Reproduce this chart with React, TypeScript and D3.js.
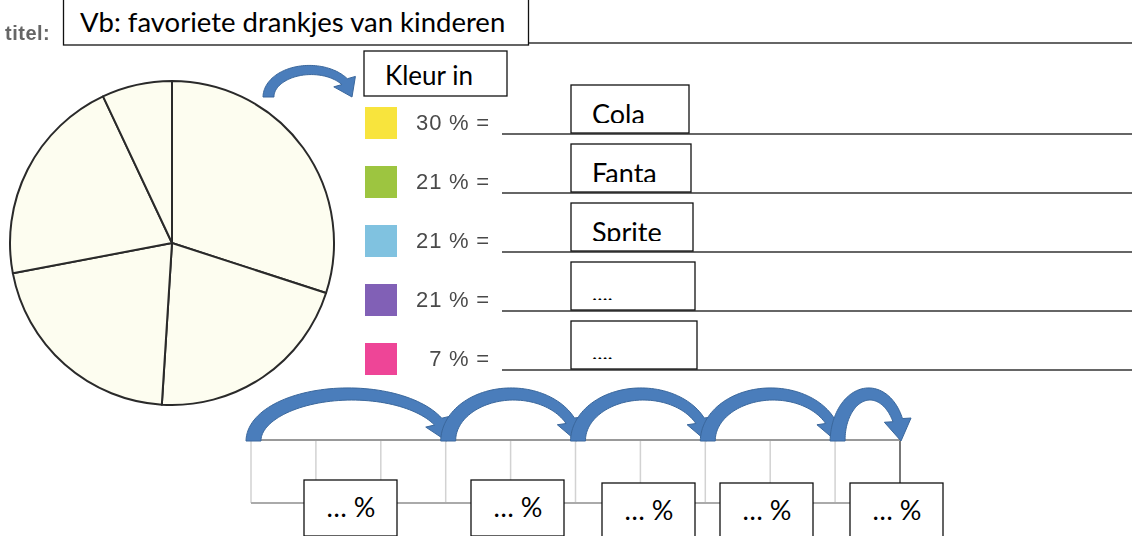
import React, { useEffect, useRef } from 'react';
import * as d3 from 'd3';

// worksheet: pie chart of favourite drinks + percentage strip
const titleText = 'Vb: favoriete drankjes van kinderen';
const drinks = ['Cola', 'Fanta', 'Sprite', '....', '....'];
const percents = [30, 21, 21, 21, 7];
const swatchColors = ['#f8e43e', '#9dc53f', '#80c2e0', '#8160b6', '#ee4597'];
const hopCells = [3, 2, 2, 2, 1];
const stripCells = 10;
const hopLabels = ['… %', '… %', '… %', '… %', '… %'];

const W = 1134;
const H = 536;

// curved (PowerPoint style) arrow from x0 to tip x1, sitting on baseline yb
function curvedArrow(x0: number, x1: number, yb: number, h: number, w0: number, w1: number, headW: number, headL: number) {
  const cx = (x0 + w0 / 2 + x1) / 2;
  const rx = (x1 - (x0 + w0 / 2)) / 2;
  const C = (t: number) => [cx + rx * Math.cos(t), yb - h * Math.sin(t)];
  const tip = C(0);
  let te = 0;
  while (te < Math.PI / 2) {
    const p = C(te);
    if (Math.hypot(p[0] - tip[0], p[1] - tip[1]) >= headL) break;
    te += 0.005;
  }
  const n = 60;
  const outer: [number, number][] = [];
  const inner: [number, number][] = [];
  for (let i = 0; i <= n; i++) {
    const t = Math.PI - (Math.PI - te) * (i / n);
    const p = C(t);
    let tx = rx * Math.sin(t), ty = h * Math.cos(t);
    const len = Math.hypot(tx, ty) || 1;
    tx /= len; ty /= len;
    const nx = ty, ny = -tx;
    const w = w0 + (w1 - w0) * (i / n);
    outer.push([p[0] + nx * w / 2, p[1] + ny * w / 2]);
    inner.push([p[0] - nx * w / 2, p[1] - ny * w / 2]);
  }
  const pe = C(te);
  let dx = tip[0] - pe[0], dy = tip[1] - pe[1];
  const dl = Math.hypot(dx, dy) || 1;
  dx /= dl; dy /= dl;
  const hx = dy, hy = -dx;
  const pts: [number, number][] = [
    ...outer,
    [pe[0] + hx * headW / 2, pe[1] + hy * headW / 2],
    [tip[0], tip[1]],
    [pe[0] - hx * headW / 2, pe[1] - hy * headW / 2],
    ...inner.reverse(),
  ];
  return d3.line()(pts) + 'Z';
}

const App = () => {
  const svgRef = useRef<SVGSVGElement>(null);

  useEffect(() => {
    const svg = d3.select(svgRef.current);
    svg.selectAll('*').remove();
    const calibri = 'Lato, Carlito, "Open Sans", sans-serif';
    const helv = '"Liberation Sans", Arial, sans-serif';
    const arrowFill = '#4a7dbb';
    const arrowStroke = '#3a679c';

    const defs = svg.append('defs');
    defs.append('filter').attr('id', 'soft')
      .attr('x', '-10%').attr('y', '-20%').attr('width', '120%').attr('height', '140%')
      .append('feGaussianBlur').attr('stdDeviation', 0.5);

    // title
    svg.append('text').attr('x', 5).attr('y', 40)
      .attr('font-family', helv).attr('font-size', 20).attr('font-weight', 'bold')
      .attr('letter-spacing', 0.5)
      .attr('fill', '#666').attr('filter', 'url(#soft)').text('titel:');
    svg.append('line').attr('x1', 529).attr('x2', 1132).attr('y1', 43).attr('y2', 43)
      .attr('stroke', '#666').attr('stroke-width', 2);
    svg.append('rect').attr('x', 63.5).attr('y', -1).attr('width', 465).attr('height', 46)
      .attr('fill', '#fff').attr('stroke', '#111').attr('stroke-width', 1.3);
    svg.append('text').attr('x', 80).attr('y', 32)
      .attr('font-family', calibri).attr('font-size', 27.5).attr('fill', '#000').text(titleText);

    // pie
    const cx = 172, cy = 243, r = 162;
    const pie = d3.pie<number>().sort(null).value(d => d)(percents);
    const arc = d3.arc<d3.PieArcDatum<number>>().innerRadius(0).outerRadius(r);
    const g = svg.append('g').attr('transform', `translate(${cx},${cy})`);
    g.selectAll('path').data(pie).enter().append('path')
      .attr('d', arc)
      .attr('fill', '#fdfdf0')
      .attr('stroke', '#2a2a2a').attr('stroke-width', 2).attr('stroke-linejoin', 'round');

    // legend
    const rowY = d3.scaleLinear().domain([0, drinks.length - 1]).range([123, 359]);
    const rows = svg.selectAll('g.row').data(drinks).enter().append('g').attr('class', 'row');
    rows.append('rect').attr('x', 365).attr('y', (_, i) => rowY(i) - 16)
      .attr('width', 32).attr('height', 32)
      .attr('fill', (_, i) => swatchColors[i]).attr('filter', 'url(#soft)');
    rows.append('text').attr('x', 490).attr('y', (_, i) => rowY(i) + 7)
      .attr('text-anchor', 'end').attr('font-family', helv).attr('font-size', 22)
      .attr('letter-spacing', 0.8)
      .attr('fill', '#4a4a4a').attr('filter', 'url(#soft)')
      .text((_, i) => `${percents[i]} % =`);
    rows.append('line').attr('x1', 502).attr('x2', 1132)
      .attr('y1', (_, i) => rowY(i) + 11).attr('y2', (_, i) => rowY(i) + 11)
      .attr('stroke', '#666').attr('stroke-width', 2);
    rows.each(function (d, i) {
      const row = d3.select(this);
      const by = rowY(i) + 10 - 48;
      const bx = 571;
      const bw = 118 + i * 2;
      row.append('clipPath').attr('id', `clip${i}`)
        .append('rect').attr('x', bx).attr('y', by).attr('width', bw).attr('height', 38);
      row.append('rect').attr('x', bx).attr('y', by).attr('width', bw).attr('height', 48)
        .attr('fill', '#fff').attr('stroke', '#111').attr('stroke-width', 1.3);
      row.append('text').attr('x', bx + 21).attr('y', by + 39)
        .attr('clip-path', `url(#clip${i})`)
        .attr('font-family', calibri).attr('font-size', d === '....' ? 22 : 27)
        .attr('fill', '#000').text(d);
    });

    // "Kleur in"
    svg.append('rect').attr('x', 364).attr('y', 51).attr('width', 143).attr('height', 45)
      .attr('fill', '#fff').attr('stroke', '#111').attr('stroke-width', 1.3);
    svg.append('text').attr('x', 385).attr('y', 85)
      .attr('font-family', calibri).attr('font-size', 26).attr('fill', '#000').text('Kleur in');
    svg.append('path').attr('d', curvedArrow(263, 352, 97, 27, 11, 8, 24, 17))
      .attr('fill', arrowFill).attr('stroke', arrowStroke).attr('stroke-width', 1);

    // percentage strip
    const sx = d3.scaleLinear().domain([0, stripCells]).range([251, 900]);
    const sTop = 440, sBot = 503;
    const strip = svg.append('g');
    strip.selectAll('line.cell').data(d3.range(stripCells + 1)).enter().append('line')
      .attr('x1', d => sx(d)).attr('x2', d => sx(d)).attr('y1', sTop).attr('y2', sBot)
      .attr('stroke', d => (d === stripCells ? '#777' : '#d2d2d2'))
      .attr('stroke-width', d => (d === stripCells ? 2 : 1.5));
    strip.append('line').attr('x1', sx(0)).attr('x2', sx(stripCells)).attr('y1', sTop).attr('y2', sTop)
      .attr('stroke', '#999').attr('stroke-width', 2);
    strip.append('line').attr('x1', sx(0)).attr('x2', sx(stripCells)).attr('y1', sBot).attr('y2', sBot)
      .attr('stroke', '#aaa').attr('stroke-width', 2);

    // hops
    const starts = d3.cumsum([0, ...hopCells]);
    hopCells.forEach((_, i) => {
      const a = sx(starts[i]) - 5;
      const b = sx(starts[i + 1]) + 1;
      svg.append('path').attr('d', curvedArrow(a, b, 441, 47, 15, 10, 27, 21))
        .attr('fill', arrowFill).attr('stroke', arrowStroke).attr('stroke-width', 1);
    });

    // answer boxes
    const boxX = [304, 471, 602, 720, 850];
    hopLabels.forEach((lab, i) => {
      const by = i < 2 ? 480 : 483;
      svg.append('rect').attr('x', boxX[i]).attr('y', by).attr('width', 93).attr('height', 56)
        .attr('fill', '#fff').attr('stroke', '#111').attr('stroke-width', 1.3);
      svg.append('text').attr('x', boxX[i] + 47).attr('y', by + 37)
        .attr('text-anchor', 'middle')
        .attr('font-family', calibri).attr('font-size', 27).attr('fill', '#000').text(lab);
    });
  }, []);

  return (
    <svg ref={svgRef} width={W} height={H}
      style={{ position: 'absolute', left: 0, top: 0, background: '#fff', display: 'block' }} />
  );
};

export default App;
